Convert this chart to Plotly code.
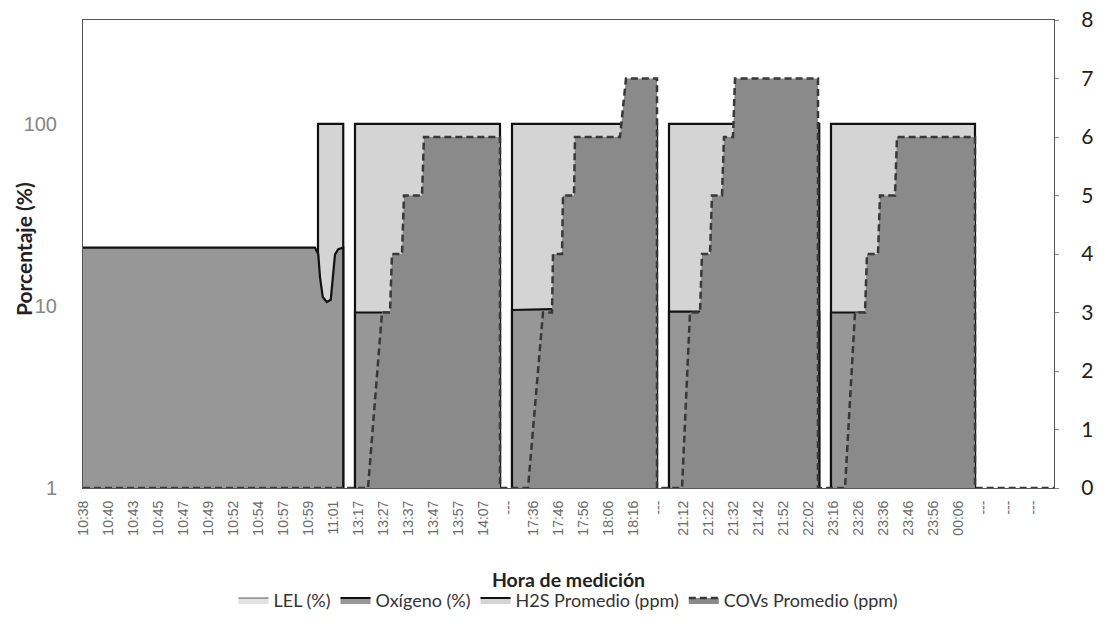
import plotly.graph_objects as go

# ---- category labels (x axis) ----
hour_labels = ["10:38", "10:40", "10:43", "10:45", "10:47", "10:49", "10:52", "10:54", "10:57", "10:59",
               "11:01", "13:17", "13:27", "13:37", "13:47", "13:57", "14:07", "---", "17:36", "17:46",
               "17:56", "18:06", "18:16", "---", "21:12", "21:22", "21:32", "21:42", "21:52", "22:02",
               "23:16", "23:26", "23:36", "23:46", "23:56", "00:06", "---", "---", "---"]

# positions are in category units along the time axis (None = break between campaigns)
# Oxígeno (%)  (primary, log axis; 1 = floor of the scale)
oxy_x = [0, 9.28, 9.41, 9.48, 9.59, 9.75, 9.91, 10.01, 10.08, 10.21, 10.41, 10.41, None,
         10.88, 10.88, 16.68, 16.68, None,
         17.16, 17.16, 18.76, 22.96, 22.96, None,
         23.44, 23.44, 29.45, 29.45, None,
         29.92, 29.92, 35.68, 35.68]
oxy_y = [20.9, 20.9, 19.2, 14.4, 11.2, 10.5, 10.8, 14.4, 19.2, 20.5, 20.9, 1, None,
         1, 9.2, 9.2, 1, None,
         1, 9.5, 9.6, 9.6, 1, None,
         1, 9.3, 9.3, 1, None,
         1, 9.2, 9.2, 1]

# H2S Promedio (ppm)  (primary, log axis)
h2s_x = [9.4, 9.4, 10.41, 10.41, None,
         10.88, 10.88, 16.68, 16.68, None,
         17.16, 17.16, 22.96, 22.96, None,
         23.44, 23.44, 29.45, 29.45, None,
         29.92, 29.92, 35.68, 35.68]
h2s_y = [1, 100, 100, 1, None,
         1, 100, 100, 1, None,
         1, 100, 100, 1, None,
         1, 100, 100, 1, None,
         1, 100, 100, 1]

# LEL (%)  (all readings zero -> not visible on log scale)
lel_x = [0, 38.84]
lel_y = [0, 0]

# COVs Promedio (ppm)  (secondary axis)
cov_x = [0, 11.4, 11.96, 12.28, 12.36, 12.76, 12.84, 13.56, 13.64, 16.68, 16.68,
         17.8, 18.4, 18.76, 18.8, 19.16, 19.2, 19.64, 19.68, 21.48, 21.72, 22.96, 22.96,
         23.96, 24.28, 24.68, 24.76, 25.08, 25.16, 25.56, 25.64, 26.0, 26.08, 29.4, 29.4,
         30.48, 30.88, 31.28, 31.36, 31.8, 31.88, 32.48, 32.56, 35.68, 35.68, 38.84]
cov_y = [0, 0, 3, 3, 4, 4, 5, 5, 6, 6, 0,
         0, 3, 3, 4, 4, 5, 5, 6, 6, 7, 7, 0,
         0, 3, 3, 4, 4, 5, 5, 6, 6, 7, 7, 0,
         0, 3, 3, 4, 4, 5, 5, 6, 6, 0, 0]

fig = go.Figure()

fig.add_trace(go.Scatter(x=lel_x, y=lel_y, name="LEL (%)", mode="lines", fill="tozeroy",
                         fillcolor="#e2e2e2", line=dict(color="#555555", width=1)))
fig.add_trace(go.Scatter(x=h2s_x, y=h2s_y, name="H2S Promedio (ppm)", mode="lines", fill="tozeroy",
                         fillcolor="#d4d4d4", line=dict(color="#111111", width=2.2),
                         connectgaps=False))
fig.add_trace(go.Scatter(x=oxy_x, y=oxy_y, name="Oxígeno (%)", mode="lines", fill="tozeroy",
                         fillcolor="#979797", line=dict(color="#111111", width=2.2),
                         connectgaps=False))
fig.add_trace(go.Scatter(x=cov_x, y=cov_y, name="COVs Promedio (ppm)", mode="lines", fill="tozeroy",
                         fillcolor="#8a8a8a", line=dict(color="#383838", width=2.5, dash="7px,4px"),
                         yaxis="y2"))

# legend order as in reference
fig.data[0].legendrank = 1
fig.data[2].legendrank = 2
fig.data[1].legendrank = 3
fig.data[3].legendrank = 4

fig.update_layout(
    width=1097, height=631,
    margin=dict(l=83, r=43, t=20, b=138),
    paper_bgcolor="white", plot_bgcolor="white",
    showlegend=True,
    legend=dict(orientation="h", x=0.5, xanchor="center", y=-0.24, yanchor="middle",
                font=dict(family="Lato", size=18, color="#333333"),
                traceorder="normal", itemwidth=30),
    xaxis=dict(range=[0, 38.84], tickmode="array",
               tickvals=list(range(len(hour_labels))), ticktext=hour_labels,
               tickangle=-90, tickfont=dict(family="Liberation Sans", size=14, color="#6a6a6a"),
               showgrid=False, zeroline=False, showline=True, mirror=True,
               linecolor="#555555", linewidth=1, ticks="", automargin=False,
               ticklabelstandoff=6,
               title=dict(text="<b>Hora de medición</b>",
                          font=dict(family="Lato", size=19.5, color="#222222"), standoff=38)),
    yaxis=dict(type="log", range=[0, 2.57], tickvals=[1, 10, 100], ticktext=["1", "10", "100"],
               tickfont=dict(family="Liberation Sans", size=20, color="#858585"),
               showgrid=False, zeroline=False, showline=True, mirror=True,
               linecolor="#555555", linewidth=1, ticks="", ticklabelstandoff=21, automargin=False),
    yaxis2=dict(overlaying="y", side="right", range=[0, 8], tickvals=[0, 1, 2, 3, 4, 5, 6, 7, 8],
                tickfont=dict(family="Lato", size=21, color="#222222"),
                showgrid=False, zeroline=False, showline=True, linecolor="#555555", linewidth=1,
                ticks="outside", ticklen=4, tickcolor="#888888", ticklabelstandoff=18,
                ticklabeloverflow="allow", automargin=False),
    annotations=[dict(text="<b>Porcentaje (%)</b>", textangle=-90, xref="paper", yref="paper",
                      x=-0.061, y=0.51, xanchor="center", yanchor="middle", showarrow=False,
                      font=dict(family="Lato", size=21, color="#222222"))],
)

fig.write_html("out.html", config={"displayModeBar": False},
               post_script="document.body.style.margin='0';document.body.style.overflow='hidden';")
